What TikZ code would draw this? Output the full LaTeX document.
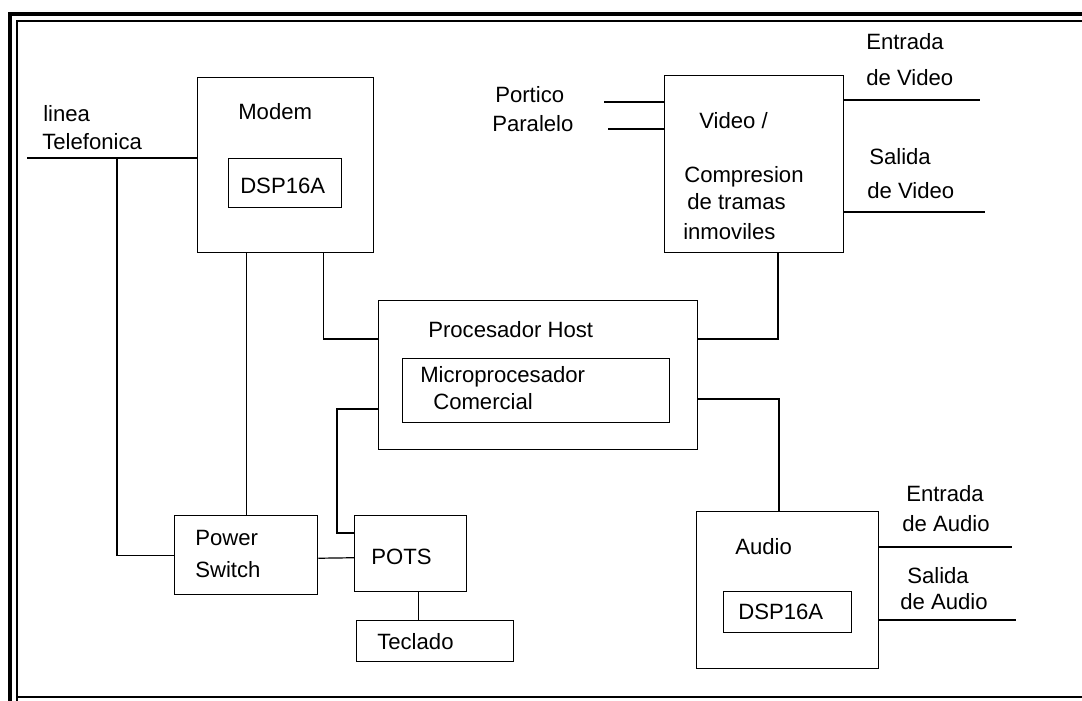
\documentclass[tikz,border=0pt]{standalone}
\usepackage{fontspec}
\setmainfont{Liberation Sans}
\usetikzlibrary{calc}
\begin{document}
\begin{tikzpicture}[x=0.75pt,y=-0.75pt,
  blk/.style={draw,line width=1.1pt,inner sep=0pt,anchor=north west},
  wire/.style={line width=0.9pt},
  txt/.style={inner sep=0pt,anchor=mid west,yshift=-1.5pt,font=\fontsize{16.6}{19}\selectfont}]
\useasboundingbox (0,0) rectangle (1082,700);
\clip (0,0) rectangle (1082,700);
% page frame
\draw[line width=3pt] (10,720) -- (10,14) -- (1100,14);
\draw[line width=1.2pt] (17,720) -- (17,21) -- (1100,21);
\draw[line width=1.2pt] (17,697) -- (1100,697);

% blocks
\node[blk,minimum width=132pt,minimum height=131.25pt] (modem) at (197,77) {};
\node[blk,minimum width=84.75pt,minimum height=36.75pt] (mdsp) at (228,158) {};
\node[blk,minimum width=134.25pt,minimum height=132.75pt] (video) at (664,75) {};
\node[blk,minimum width=239.25pt,minimum height=111.75pt] (host) at (378,300) {};
\node[blk,minimum width=200.25pt,minimum height=48pt] (micro) at (402,358) {};
\node[blk,minimum width=107.25pt,minimum height=59.25pt] (power) at (174,515) {};
\node[blk,minimum width=84pt,minimum height=57pt] (pots) at (354,515) {};
\node[blk,minimum width=117.75pt,minimum height=30.75pt] (teclado) at (356,620) {};
\node[blk,minimum width=136.5pt,minimum height=117.75pt] (audio) at (696,511) {};
\node[blk,minimum width=96pt,minimum height=30.75pt] (adsp) at (723,591) {};

% labels
\node[txt] (t1) at (43,116) {linea};
\node[txt] (t2) at (42,144) {Telefonica};
\node[txt] (t3) at (238,114) {Modem};
\node[txt] (t4) at (240,188) {DSP16A};
\node[txt] (t5) at (495,97) {Portico};
\node[txt] (t6) at (492,126) {Paralelo};
\node[txt] (t7) at (699,123) {Video /};
\node[txt] (t8) at (684,177) {Compresion};
\node[txt] (t9) at (687,204) {de tramas};
\node[txt] (t10) at (683,234) {inmoviles};
\node[txt] (t11) at (866,44) {Entrada};
\node[txt] (t12) at (866,80) {de Video};
\node[txt] (t13) at (869,159) {Salida};
\node[txt] (t14) at (867,193) {de Video};
\node[txt] (t15) at (428,332) {Procesador Host};
\node[txt] (t16) at (420,377) {Microprocesador};
\node[txt] (t17) at (433,404) {Comercial};
\node[txt] (t18) at (195,540) {Power};
\node[txt] (t19) at (195,572) {Switch};
\node[txt] (t20) at (371,559) {POTS};
\node[txt] (t21) at (377,644) {Teclado};
\node[txt] (t22) at (735,549) {Audio};
\node[txt] (t23) at (738,614) {DSP16A};
\node[txt] (t24) at (906,496) {Entrada};
\node[txt] (t25) at (902,526) {de Audio};
\node[txt] (t26) at (907,578) {Salida};
\node[txt] (t27) at (900,604) {de Audio};

% free line ends
\coordinate (lt) at (27,158);
\coordinate (jt) at (117,158);
\coordinate (p1) at (604,102);
\coordinate (p2) at (608,129);
\coordinate (ve) at (980,100);
\coordinate (vs) at (985,212);
\coordinate (ae) at (1012,547);
\coordinate (as) at (1016,620);

% connectors
\draw[wire] (lt) -- (lt -| modem.west);
\draw[wire] (jt) |- (power.west);
\draw[wire] (modem.south -| power.north) -- (power.north);
\draw[wire] ($(modem.south east)+(-51,0)$) |- ($(host.north west)+(0,39)$);
\draw[wire] ($(host.north west)+(0,109)$) -- ++(-41,0) |- ($(pots.north west)+(0,18)$);
\draw[wire] ($(power.east)+(0,3)$) -- ($(pots.west)+(0,4)$);
\coordinate (pt) at ($(pots.south)+(8,0)$);
\draw[wire] (pt) -- (pt |- teclado.north);
\draw[wire] ($(video.south west)+(114,0)$) |- ($(host.north east)+(0,39)$);
\draw[wire] ($(host.north east)+(0,99)$) -| ($(audio.north west)+(83,0)$);
\draw[wire] (p1) -- (p1 -| video.west);
\draw[wire] (p2) -- (p2 -| video.west);
\draw[wire] (ve -| video.east) -- (ve);
\draw[wire] (vs -| video.east) -- (vs);
\draw[wire] (ae -| audio.east) -- (ae);
\draw[wire] (as -| audio.east) -- (as);
\end{tikzpicture}
\end{document}
